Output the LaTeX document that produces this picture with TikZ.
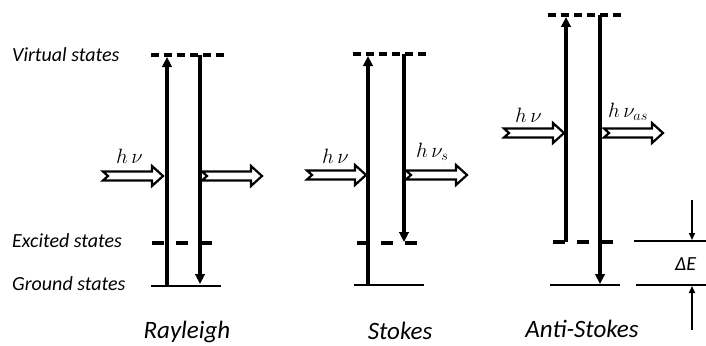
\documentclass[tikz,border=0pt]{standalone}
\usepackage{fontspec}
\setmainfont{Carlito}
\usetikzlibrary{arrows.meta}
\newcommand\photonarrow[3]{% x1, x2, y
  \draw[photon] (#1,#3-4.5) -- (#2-11,#3-4.5) -- (#2-11,#3-10) -- (#2,#3)
    -- (#2-11,#3+10) -- (#2-11,#3+4.5) -- (#1,#3+4.5) -- (#1+5,#3) -- cycle;}
\begin{document}
\begin{tikzpicture}[x=1pt,y=-1pt,
  level/.style={line width=2.7pt},
  vlevel/.style={line width=3.2pt, dash pattern=on 8pt off 5pt},
  elevel/.style={line width=3.2pt, dash pattern=on 11.5pt off 12.5pt},
  trans/.style={line width=3.2pt,-{Triangle[length=10pt,width=9.5pt]}},
  photon/.style={line width=2.2pt, fill=white, line join=miter},
  thin/.style={line width=1.6pt},
  dearrow/.style={line width=1.6pt,-{Triangle[length=7pt,width=6pt]}},
  lab/.style={font=\fontsize{20}{24}\selectfont\itshape, anchor=base west, inner sep=0pt},
  ttl/.style={font=\fontsize{25}{30}\selectfont\itshape, anchor=base, inner sep=0pt},
  hv/.style={font=\fontsize{20}{24}\selectfont, anchor=base west, inner sep=0pt}]
\useasboundingbox (0,0) rectangle (706,345);

% left labels
\node[lab] (lv) at (12,62) {Virtual states};
\node[lab] (le) at (12,247) {Excited states};
\node[lab] (lg) at (12,290) {Ground states};

% ---------- Rayleigh ----------
\coordinate (rv1) at (151,55);  \coordinate (rv2) at (227,55);
\coordinate (re1) at (152,243); \coordinate (re2) at (214,243);
\coordinate (rg1) at (151,286); \coordinate (rg2) at (221,286);
\draw[vlevel] (rv1) -- (rv2);
\draw[elevel] (re1) -- (re2);
\draw[level] (rg1) -- (rg2);
\coordinate (ruB) at (167,286); \coordinate (ruT) at (167,57);
\coordinate (rdT) at (200,55);  \coordinate (rdB) at (200,284);
\draw[trans] (ruB) -- (ruT);
\draw[trans] (rdT) -- (rdB);
\photonarrow{103}{163}{176}
\photonarrow{202}{262}{176}
\node[hv] (rhv) at (116,163) {$h\,\nu$};
\node[ttl] (rt) at (187,338) {Rayleigh};

% ---------- Stokes ----------
\coordinate (sv1) at (353,54);  \coordinate (sv2) at (429,54);
\coordinate (se1) at (357,243); \coordinate (se2) at (418,243);
\coordinate (sg1) at (354,285); \coordinate (sg2) at (424,285);
\draw[vlevel] (sv1) -- (sv2);
\draw[elevel] (se1) -- (se2);
\draw[level] (sg1) -- (sg2);
\coordinate (suB) at (368,285); \coordinate (suT) at (368,56);
\coordinate (sdT) at (404,54);  \coordinate (sdB) at (404,242);
\draw[trans] (suB) -- (suT);
\draw[trans] (sdT) -- (sdB);
\photonarrow{307}{366}{175}
\photonarrow{406}{467}{175}
\node[hv] (shv) at (322,163) {$h\,\nu$};
\node[hv] (shvs) at (416,157) {$h\,\nu_s$};
\node[ttl] (st) at (400,339) {Stokes};

% ---------- Anti-Stokes ----------
\coordinate (av1) at (548,15);  \coordinate (av2) at (624,15);
\coordinate (ae1) at (553,242); \coordinate (ae2) at (615,242);
\coordinate (ag1) at (550,285); \coordinate (ag2) at (620,285);
\draw[vlevel] (av1) -- (av2);
\draw[elevel] (ae1) -- (ae2);
\draw[level] (ag1) -- (ag2);
\coordinate (auB) at (566,242); \coordinate (auT) at (566,17);
\coordinate (adT) at (600,15);  \coordinate (adB) at (600,284);
\draw[trans] (auB) -- (auT);
\draw[trans] (adT) -- (adB);
\photonarrow{504}{564}{133}
\photonarrow{604}{663}{133}
\node[hv] (ahv) at (515,122) {$h\,\nu$};
\node[hv] (ahvas) at (608,117) {$h\,\nu_{as}$};
\node[ttl] (at) at (582,337) {Anti-Stokes};

% ---------- Delta E ----------
\coordinate (d1a) at (634,241); \coordinate (d1b) at (706,241);
\coordinate (d2a) at (636,285); \coordinate (d2b) at (706,285);
\draw[thin] (d1a) -- (d1b);
\draw[thin] (d2a) -- (d2b);
\coordinate (dt0) at (692,200); \coordinate (dt1) at (692,240);
\coordinate (db0) at (692,330); \coordinate (db1) at (692,286);
\draw[dearrow] (dt0) -- (dt1);
\draw[dearrow] (db0) -- (db1);
\node[lab] (de) at (675,270) {ΔE};
\end{tikzpicture}
\end{document}
